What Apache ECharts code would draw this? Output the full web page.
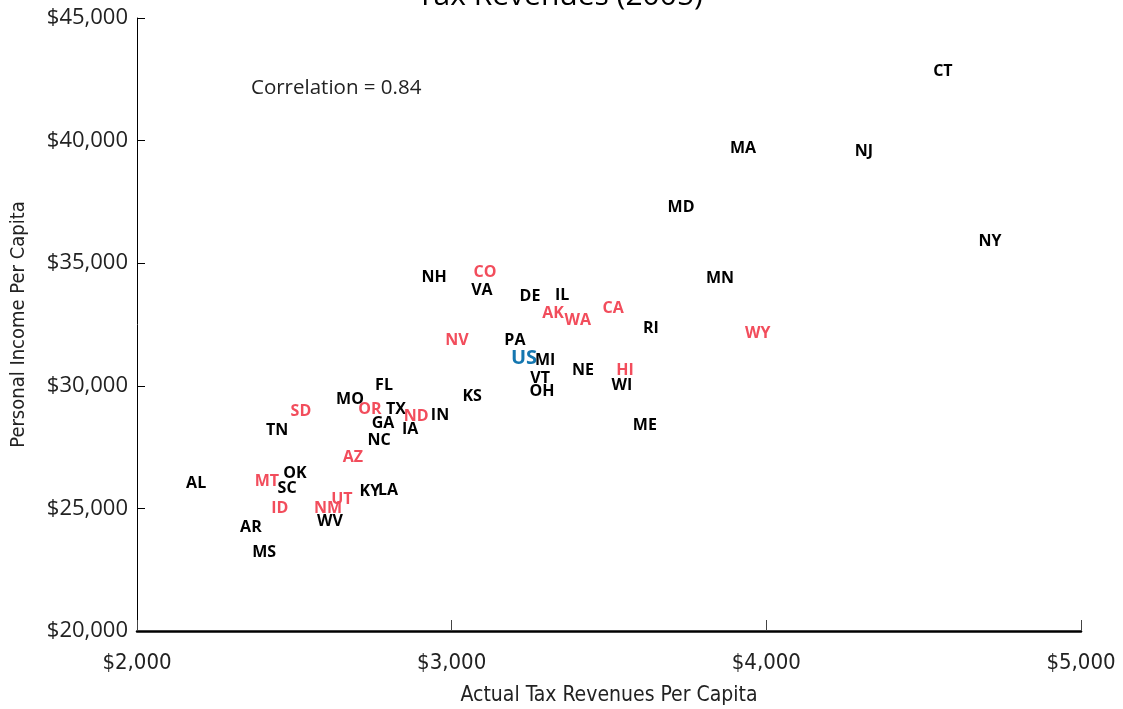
<!DOCTYPE html>
<html>
<head>
<meta charset="utf-8">
<script src="https://cdn.jsdelivr.net/npm/echarts@6/dist/echarts.min.js"></script>
<style>
  html, body { margin: 0; padding: 0; background: #fff; }
  #chart { width: 1123px; height: 709px; }
</style>
</head>
<body>
<div id="chart"></div>
<script>
// State abbreviations, per-capita tax revenues ($) and per-capita personal income ($), 2005
const states = ['CT','MA','NJ','MD','NY','MN','NH','CO','VA','DE','IL','AK','WA','CA','RI','WY','NV','PA','US','MI',
                'NE','HI','VT','WI','OH','KS','FL','MO','SD','OR','TX','ND','IN','GA','IA','TN','NC','ME','AZ','OK',
                'AL','MT','SC','KY','LA','UT','ID','NM','AR','WV','MS'];
const taxRevenue = [4561,3926,4310,3729,4711,3853,2944,3106,3096,3249,3351,3322,3401,3513,3633,3973,3017,3201,3230,3297,
                    3417,3551,3281,3541,3287,3065,2785,2677,2521,2740,2823,2887,2963,2782,2868,2445,2769,3614,2686,2502,
                    2188,2413,2477,2740,2798,2651,2454,2607,2362,2613,2404];
const personalIncome = [42840,39700,39540,37290,35870,34360,34400,34640,33900,33660,33700,32970,32680,33170,32320,32150,31830,31830,31130,31050,
                        30640,30640,30280,30030,29750,29580,30030,29460,28970,29050,29050,28770,28810,28480,28200,28160,27790,28400,27060,26440,
                        26000,26080,25830,25710,25750,25380,24980,24980,24240,24450,23220];
// Region grouping used for label colouring
const westernStates = ['CO','AK','WA','CA','WY','NV','HI','SD','OR','ND','AZ','MT','UT','ID','NM'];
const nationalLabel = 'US';

const xTicks = [2000, 3000, 4000, 5000];
const yTicks = [20000, 25000, 30000, 35000, 40000, 45000];
const correlationText = 'Correlation = 0.84';

const fmtDollar = v => '$' + v.toLocaleString('en-US');
const condensed = '"DejaVu Sans Condensed", "DejaVu Sans", sans-serif';

const points = states.map((s, i) => {
  let color = '#000000', size = 16;
  if (s === nationalLabel) { color = '#1577b0'; size = 20; }
  else if (westernStates.includes(s)) { color = '#f24d5c'; }
  return {
    name: s,
    value: [taxRevenue[i], personalIncome[i]],
    label: { color: color, fontSize: size }
  };
});

const chart = echarts.init(document.getElementById('chart'), null, { renderer: 'canvas' });
chart.setOption({
  animation: false,
  backgroundColor: '#ffffff',
  title: {
    text: 'Tax Revenues (2005)',
    left: 412,
    top: -24,
    textStyle: { fontFamily: '"Open Sans", sans-serif', fontWeight: 'normal', fontSize: 30, color: '#000' }
  },
  grid: { left: 137, right: 42, top: 18, bottom: 78, containLabel: false, outerBoundsMode: 'none' },
  xAxis: {
    type: 'value',
    min: xTicks[0], max: xTicks[xTicks.length - 1], interval: 1000,
    name: 'Actual Tax Revenues Per Capita',
    nameLocation: 'middle', nameGap: 54,
    nameTextStyle: { fontFamily: condensed, fontSize: 21, color: '#222' },
    axisLine: { lineStyle: { color: '#000', width: 2.5 } },
    axisTick: { inside: true, length: 11, lineStyle: { color: '#444', width: 1 } },
    axisLabel: { formatter: fmtDollar, margin: 21, fontFamily: condensed, fontSize: 22, color: '#222' },
    splitLine: { show: false }
  },
  yAxis: {
    type: 'value',
    min: yTicks[0], max: yTicks[yTicks.length - 1], interval: 5000,
    name: 'Personal Income Per Capita',
    nameLocation: 'middle', nameGap: 108, nameRotate: 90,
    nameTextStyle: { fontFamily: condensed, fontSize: 20, color: '#222' },
    axisLine: { lineStyle: { color: '#000', width: 1 } },
    axisTick: { inside: true, length: 8, lineStyle: { color: '#000', width: 1 } },
    axisLabel: { formatter: fmtDollar, margin: 9, fontFamily: '"Open Sans", sans-serif', fontSize: 22, color: '#222' },
    splitLine: { show: false }
  },
  graphic: [{
    type: 'text',
    left: 251, top: 78,
    style: { text: correlationText, font: '20.5px "Open Sans", sans-serif', fill: '#222' }
  }],
  series: [{
    type: 'scatter',
    symbolSize: 1,
    itemStyle: { color: 'rgba(0,0,0,0)', opacity: 1 },
    label: {
      show: true,
      position: 'inside',
      formatter: p => p.name,
      fontFamily: '"Open Sans", sans-serif',
      fontWeight: 'bold',
      fontSize: 16,
      opacity: 1
    },
    labelLayout: { hideOverlap: false },
    emphasis: { disabled: true },
    data: points
  }]
});
</script>
</body>
</html>
